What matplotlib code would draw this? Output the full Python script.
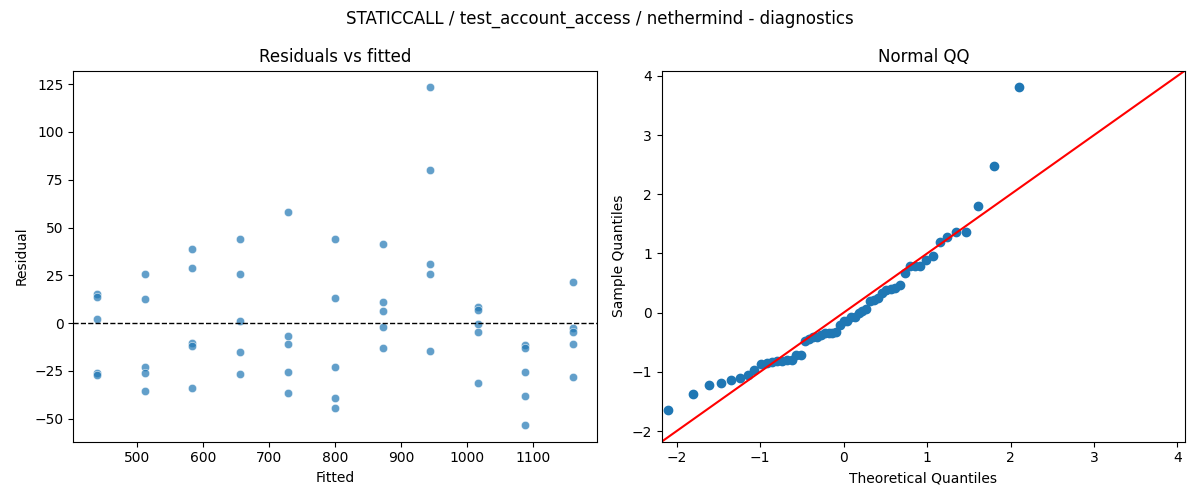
import numpy as np
import matplotlib.pyplot as plt
import seaborn as sns
from statistics import NormalDist

# fitted values (one per group) and residuals
fitted_levels = [440, 512, 584, 656, 728, 800, 872, 944, 1016, 1088, 1160]
residuals_by_level = [
    [15.3, 13.4, 2.1, -26.1, -27.2],
    [25.6, 12.5, -22.8, -26.1, -35.5],
    [38.7, 28.7, -10.3, -12.0, -34.0],
    [43.9, 25.6, 1.0, -15.2, -26.7],
    [58.0, -6.8, -11.0, -25.6, -36.6],
    [43.9, 13.1, -22.8, -39.2, -44.4],
    [41.3, 11.0, 6.3, -2.1, -13.1],
    [123.3, 80.0, 30.8, 25.6, -14.6],
    [8.2, 7.0, -0.3, -4.7, -31.4],
    [-11.3, -13.1, -25.6, -38.2, -53.3],
    [21.4, -2.4, -4.7, -11.0, -28.2],
]

fitted = np.repeat(fitted_levels, [len(r) for r in residuals_by_level])
resid = np.concatenate(residuals_by_level)

# standardised residuals for the QQ plot
z = np.sort((resid - resid.mean()) / resid.std())
n = len(z)
nd = NormalDist()
theo = np.array([nd.inv_cdf(i / (n + 1)) for i in range(1, n + 1)])

fig, (ax1, ax2) = plt.subplots(1, 2, figsize=(12, 5), dpi=100)

sns.scatterplot(x=fitted, y=resid, ax=ax1, alpha=0.7)
ax1.axhline(0, color='black', linestyle='--', linewidth=1)
ax1.set_title('Residuals vs fitted')
ax1.set_xlabel('Fitted')
ax1.set_ylabel('Residual')

ax2.plot(theo, z, 'o', color='C0')
lims = [-2.18, 4.09]
ax2.plot(lims, lims, color='red')
ax2.set_xlim(lims)
ax2.set_ylim(lims)
ax2.set_title('Normal QQ')
ax2.set_xlabel('Theoretical Quantiles')
ax2.set_ylabel('Sample Quantiles')

fig.suptitle('STATICCALL / test_account_access / nethermind - diagnostics')
plt.tight_layout()
plt.savefig('out.png')
